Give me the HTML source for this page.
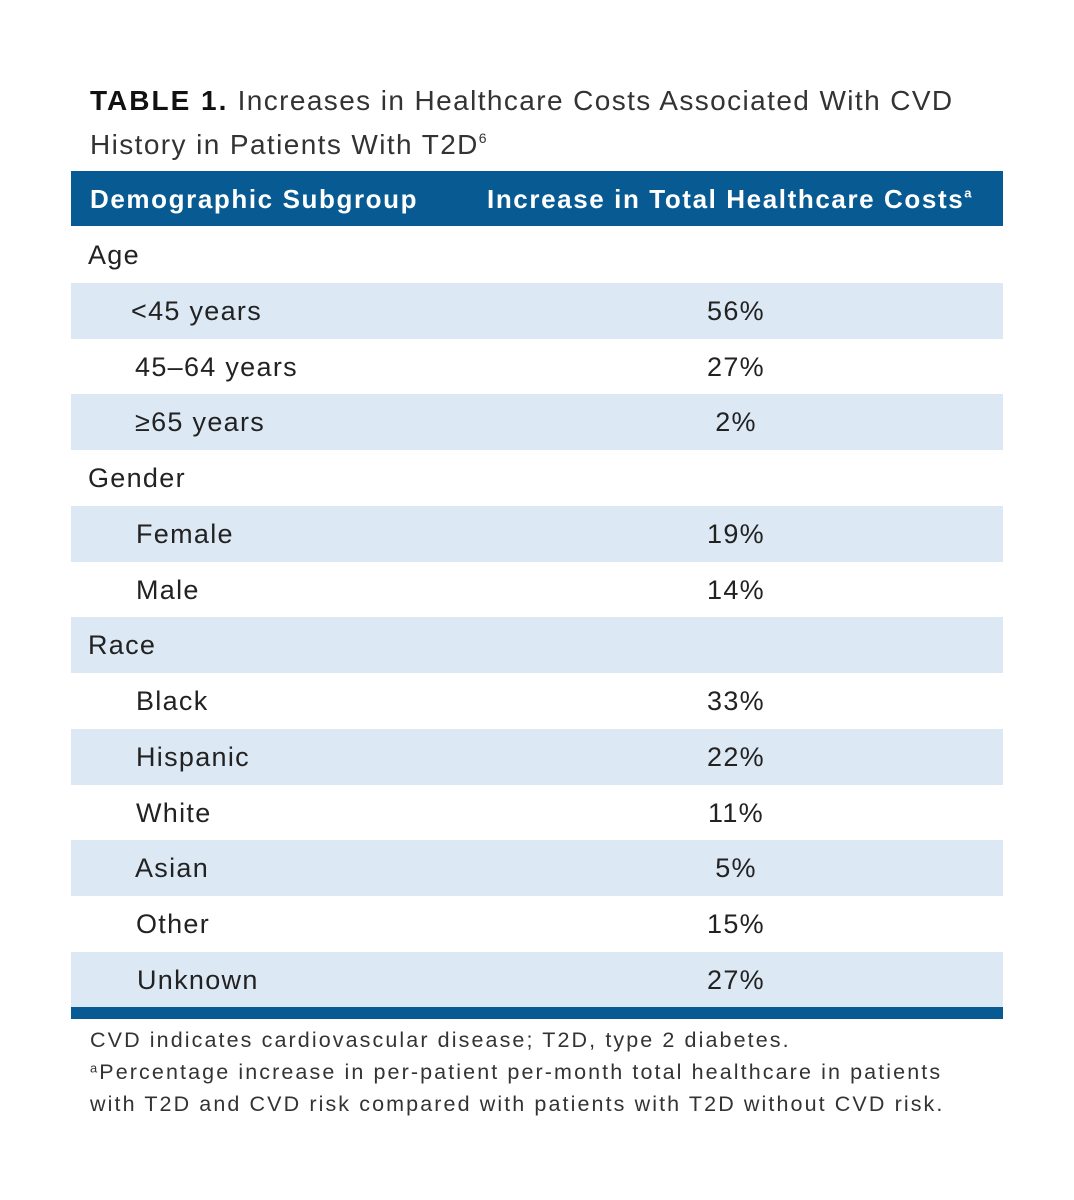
<!DOCTYPE html>
<html><head><meta charset="utf-8"><style>
body{margin:0;width:1074px;height:1200px;background:#fff;font-family:"Liberation Sans",sans-serif;color:#222;position:relative;overflow:hidden}
.title{position:absolute;left:90px;top:79px;font-size:28px;line-height:44px;color:#333;letter-spacing:1.4px}
.title b{color:#111;letter-spacing:2px}
.hdr{position:absolute;left:71px;top:171px;width:932px;height:55px;background:#075a92;color:#fff;font-weight:bold;font-size:26px;letter-spacing:1.6px}
.hdr span{position:absolute;top:13px;white-space:nowrap}
.row{position:absolute;left:71px;width:932px;height:56px;font-size:27px;color:#222;letter-spacing:1.3px}
.row.s{background:#dce8f4}
.row .l{position:absolute;top:13px;white-space:nowrap}
.row .v{position:absolute;left:565px;width:200px;text-align:center;top:13px}
.bot{position:absolute;left:71px;top:1007px;width:932px;height:12px;background:#075a92}
.note{position:absolute;left:90px;top:1024px;font-size:21.5px;line-height:32px;color:#333;letter-spacing:2.1px}
sup{font-size:0.5em;vertical-align:0.8em;line-height:0}
</style></head><body>
<div class="title"><b>TABLE 1.</b> Increases in Healthcare Costs Associated With CVD<br>History in Patients With T2D<sup>6</sup></div>
<div class="hdr">
<span style="left:19px">Demographic Subgroup</span>
<span style="left:416px">Increase in Total Healthcare Costs<sup>a</sup></span>
</div>
<div class="row" style="top:227px"><span class="l" style="left:17px">Age</span></div>
<div class="row s" style="top:283px"><span class="l" style="left:60px">&lt;45 years</span><span class="v">56%</span></div>
<div class="row" style="top:339px"><span class="l" style="left:64px">45–64 years</span><span class="v">27%</span></div>
<div class="row s" style="top:394px"><span class="l" style="left:64px">≥65 years</span><span class="v">2%</span></div>
<div class="row" style="top:450px"><span class="l" style="left:17px">Gender</span></div>
<div class="row s" style="top:506px"><span class="l" style="left:65px">Female</span><span class="v">19%</span></div>
<div class="row" style="top:562px"><span class="l" style="left:65px">Male</span><span class="v">14%</span></div>
<div class="row s" style="top:617px"><span class="l" style="left:17px">Race</span></div>
<div class="row" style="top:673px"><span class="l" style="left:65px">Black</span><span class="v">33%</span></div>
<div class="row s" style="top:729px"><span class="l" style="left:65px">Hispanic</span><span class="v">22%</span></div>
<div class="row" style="top:785px"><span class="l" style="left:65px">White</span><span class="v">11%</span></div>
<div class="row s" style="top:840px"><span class="l" style="left:64px">Asian</span><span class="v">5%</span></div>
<div class="row" style="top:896px"><span class="l" style="left:65px">Other</span><span class="v">15%</span></div>
<div class="row s" style="top:952px;height:55px"><span class="l" style="left:66px">Unknown</span><span class="v">27%</span></div>
<div class="bot"></div>
<div class="note">CVD indicates cardiovascular disease; T2D, type 2 diabetes.<br><sup style="font-size:0.6em;vertical-align:0.5em">a</sup>Percentage increase in per-patient per-month total healthcare in patients<br>with T2D and CVD risk compared with patients with T2D without CVD risk.</div>
</body></html>
